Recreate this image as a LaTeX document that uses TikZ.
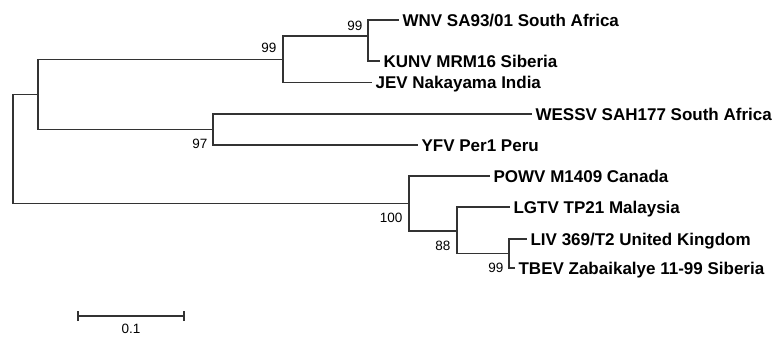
\documentclass[tikz,border=0pt]{standalone}
\usepackage{fontspec}
\setmainfont{Liberation Sans}
\usepackage{tikz}
\usetikzlibrary{positioning}

\begin{document}
\begin{tikzpicture}[
        x=1pt, y=-1pt,
        line width=1.2pt,
        % taxon label style
        taxon/.style={
            anchor=west,
            inner ysep=0pt, inner xsep=3pt,
            text height=12.2pt, text depth=0pt,
            font=\fontsize{17}{17}\selectfont\bfseries
        },
        % bootstrap value style
        boot/.style={
            inner sep=0pt,
            text height=9.7pt, text depth=0pt,
            font=\fontsize{13.5}{13.5}\selectfont
        },
        branch/.style={draw=black!80}
    ]

        \useasboundingbox (0,0) rectangle (777,337);

        % ====================
        % internal nodes
        % ====================
        \coordinate (root) at (13, 148);
        \coordinate (mosq) at (38, 94.5);
        \coordinate (jev)  at (283, 59.3);
        \coordinate (wnv)  at (368, 36);
        \coordinate (yfv)  at (213, 129.5);
        \coordinate (tbv)  at (409, 203.5);
        \coordinate (lgt)  at (457, 231);
        \coordinate (tbe)  at (509, 253.5);

        % ====================
        % taxa (leaves)
        % ====================
        \node[taxon] (WNV)   at (399, 20)    {WNV SA93/01 South Africa};
        \node[taxon] (KUNV)  at (380, 61)    {KUNV MRM16 Siberia};
        \node[taxon] (JEV)   at (372, 82.7)  {JEV Nakayama India};
        \node[taxon] (WESSV) at (532, 114)   {WESSV SAH177 South Africa};
        \node[taxon] (YFV)   at (418, 145)   {YFV Per1 Peru};
        \node[taxon] (POWV)  at (490, 176)   {POWV M1409 Canada};
        \node[taxon] (LGTV)  at (510, 207)   {LGTV TP21 Malaysia};
        \node[taxon] (LIV)   at (527, 239)   {LIV 369/T2 United Kingdom};
        \node[taxon] (TBEV)  at (515, 268)   {TBEV Zabaikalye 11-99 Siberia};

        % ====================
        % branches
        % ====================
        \draw[branch] (root) |- (mosq);
        \draw[branch] (root) |- (tbv);

        \draw[branch] (mosq) |- (jev);
        \draw[branch] (mosq) |- (yfv);

        \draw[branch] (jev) |- (wnv);
        \draw[branch] (jev) |- (JEV.west);
        \draw[branch] (wnv) |- (WNV.west);
        \draw[branch] (wnv) |- (KUNV.west);

        \draw[branch] (yfv) |- (WESSV.west);
        \draw[branch] (yfv) |- (YFV.west);

        \draw[branch] (tbv) |- (POWV.west);
        \draw[branch] (tbv) |- (lgt);
        \draw[branch] (lgt) |- (LGTV.west);
        \draw[branch] (lgt) |- (tbe);
        \draw[branch] (tbe) |- (LIV.west);
        \draw[branch] (tbe) |- (TBEV.west);

        % ====================
        % bootstrap values
        % ====================
        \node[boot, anchor=north east] (b_wnv) at (363, 20)    {99};
        \node[boot, anchor=south east] (b_jev) at (277, 53.5)  {99};
        \node[boot, anchor=north east] (b_yfv) at (208, 138.5) {97};
        \node[boot, anchor=north east] (b_tbv) at (403, 212.5) {100};
        \node[boot, anchor=north east] (b_lgt) at (451, 240.5) {88};
        \node[boot, anchor=north east] (b_tbe) at (504, 262.5) {99};

        % ====================
        % scale bar
        % ====================
        \coordinate (sb_l) at (78, 316);
        \coordinate (sb_r) at (184, 316);
        \draw[branch] (sb_l) -- (sb_r);
        \draw[branch] ([yshift=-5pt]sb_l) -- ([yshift=5pt]sb_l);
        \draw[branch] ([yshift=-5pt]sb_r) -- ([yshift=5pt]sb_r);
        \node[boot, anchor=north] (sb_txt) at (131, 323.5) {0.1};

\end{tikzpicture}
\end{document}
